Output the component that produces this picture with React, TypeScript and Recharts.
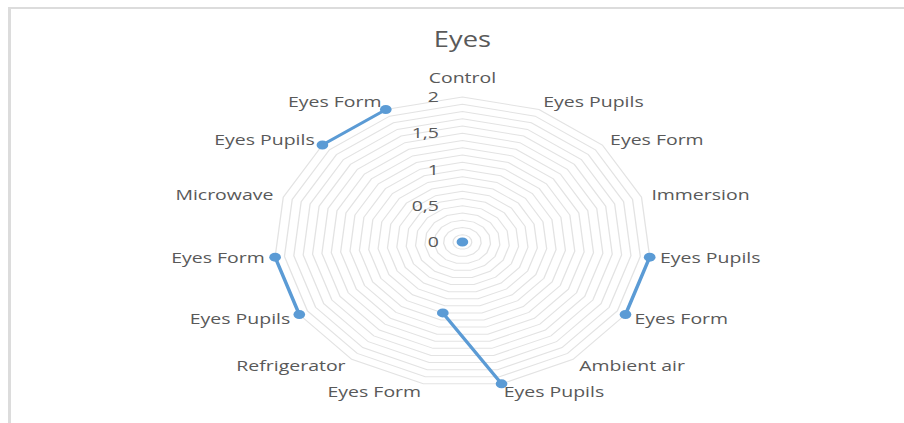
import React from "react";
import {
  RadarChart,
  Radar,
  PolarGrid,
  PolarAngleAxis,
  PolarRadiusAxis,
} from "recharts";

// categories going clockwise from the top
const categories = [
  "Control",
  "Eyes Pupils",
  "Eyes Form",
  "Immersion",
  "Eyes Pupils",
  "Eyes Form",
  "Ambient air",
  "Eyes Pupils",
  "Eyes Form",
  "Refrigerator",
  "Eyes Pupils",
  "Eyes Form",
  "Microwave",
  "Eyes Pupils",
  "Eyes Form",
];

const eyesValues: (number | null)[] = [
  0, null, null, null, 2, 2, null, 2, 1, null, 2, 2, null, 2, 2,
];

// minor rings every 0.1, labels every 0.5
const gridTicks = [
  0, 0.1, 0.2, 0.3, 0.4, 0.5, 0.6, 0.7, 0.8, 0.9, 1, 1.1, 1.2, 1.3, 1.4, 1.5,
  1.6, 1.7, 1.8, 1.9, 2,
];
const labelTicks = [0, 0.5, 1, 1.5, 2];

const FONT = "'Open Sans', 'Noto Sans', sans-serif";
const TEXT = "#595959";
const BLUE = "#5b9bd5";

const PAGE_W = 904;
const PAGE_H = 423;
const CHART_W = 696;
const STRETCH = PAGE_W / CHART_W;
const CX = 356;
const CY = 242;

const data = categories.map((name, i) => ({ name, value: eyesValues[i] }));

function AngleTick(props: any) {
  const { x, y, textAnchor, payload } = props;
  const label = categories[payload.value] ?? String(payload.value);
  const isTop = textAnchor === "middle" && y < CY;
  return (
    <text
      x={x}
      y={isTop ? y - 6 : y}
      dy={isTop ? 0 : "0.35em"}
      textAnchor={textAnchor}
      fill={TEXT}
      fontSize={15}
      fontFamily={FONT}
    >
      {label}
    </text>
  );
}

function RadiusTick(props: any) {
  const { x, y, payload } = props;
  if (!labelTicks.includes(payload.value)) return <g />;
  return (
    <text
      x={x - 18}
      y={y}
      dy="0.35em"
      textAnchor="end"
      fill={TEXT}
      fontSize={15}
      fontFamily={FONT}
    >
      {String(payload.value).replace(".", ",")}
    </text>
  );
}

const isBlank = (p: any) =>
  p == null || p.payload == null || p.payload.value == null;

// draw only runs of neighbouring non-empty points, like Excel's gaps
function GapLines(props: any) {
  const points: any[] = props.points || [];
  const runs: any[][] = [];
  let cur: any[] = [];
  points.forEach((p) => {
    if (isBlank(p)) {
      if (cur.length) runs.push(cur);
      cur = [];
    } else {
      cur.push(p);
    }
  });
  if (cur.length) runs.push(cur);
  return (
    <g>
      {runs
        .filter((r) => r.length > 1)
        .map((r, i) => (
          <polyline
            key={i}
            points={r.map((p) => `${p.x},${p.y}`).join(" ")}
            fill="none"
            stroke={BLUE}
            strokeWidth={2.75}
            strokeLinejoin="round"
            strokeLinecap="round"
          />
        ))}
    </g>
  );
}

function renderDot(props: any) {
  const { cx, cy, index, payload } = props;
  if (
    payload == null ||
    payload.value == null ||
    !Number.isFinite(cx) ||
    !Number.isFinite(cy)
  ) {
    return <g key={`dot-${index}`} />;
  }
  return <circle key={`dot-${index}`} cx={cx} cy={cy} r={4.5} fill={BLUE} />;
}

export default function App() {
  return (
    <div
      style={{
        position: "absolute",
        left: 0,
        top: 0,
        width: PAGE_W,
        height: PAGE_H,
        overflow: "hidden",
        background: "#fff",
      }}
    >
      <div
        style={{
          position: "absolute",
          left: 8,
          top: 7,
          right: -10,
          bottom: -10,
          borderLeft: "3px solid #dcdcdc",
          borderTop: "2px solid #dcdcdc",
        }}
      />
      <div
        style={{
          position: "absolute",
          left: 0,
          top: 0,
          width: CHART_W,
          height: PAGE_H,
          transform: `scaleX(${STRETCH})`,
          transformOrigin: "0 0",
        }}
      >
        <div
          style={{
            position: "absolute",
            left: 0,
            top: 29,
            width: CX * 2,
            textAlign: "center",
            fontFamily: FONT,
            fontSize: 21,
            lineHeight: "21px",
            color: TEXT,
          }}
        >
          Eyes
        </div>
        <RadarChart
          width={CHART_W}
          height={PAGE_H}
          cx={CX}
          cy={CY}
          outerRadius={145}
          data={data}
        >
          <PolarGrid radialLines={false} stroke="#e3e3e3" />
          <PolarAngleAxis tick={AngleTick} tickLine={false} axisLine={false} />
          <PolarRadiusAxis
            type="number"
            angle={90}
            domain={[0, 2]}
            ticks={gridTicks}
            tick={RadiusTick}
            axisLine={false}
          />
          <Radar
            dataKey="value"
            stroke={BLUE}
            fill="none"
            shape={GapLines}
            dot={renderDot}
            isAnimationActive={false}
          />
        </RadarChart>
      </div>
    </div>
  );
}
